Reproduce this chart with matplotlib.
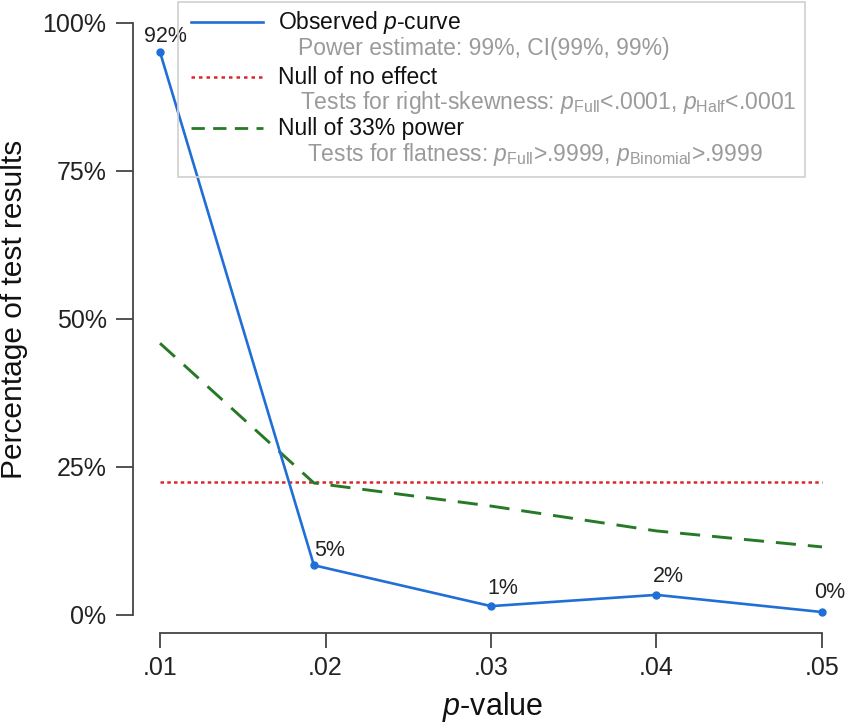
import matplotlib
matplotlib.use("Agg")
import matplotlib.pyplot as plt
from matplotlib.lines import Line2D
from matplotlib.patches import Rectangle

plt.rcParams['font.family'] = ['Liberation Sans', 'DejaVu Sans']
plt.rcParams['mathtext.fontset'] = 'custom'
plt.rcParams['mathtext.rm'] = 'Liberation Sans'
plt.rcParams['mathtext.it'] = 'Liberation Sans:italic'

# data
p_bins = [0.01, 0.0193, 0.03, 0.04, 0.05]
observed = [95.1, 8.4, 1.5, 3.4, 0.5]
observed_labels = ["92%", "5%", "1%", "2%", "0%"]
null_no_effect = [22.5, 22.5, 22.5, 22.5, 22.5]
null_33 = [45.9, 22.3, 18.4, 14.2, 11.5]
x_ticks = [0.01, 0.02, 0.03, 0.04, 0.05]
x_ticklabels = [".01", ".02", ".03", ".04", ".05"]
y_ticks = [0, 25, 50, 75, 100]
y_ticklabels = ["0%", "25%", "50%", "75%", "100%"]

legend_main = ["Observed $p$-curve", "Null of no effect", "Null of 33% power"]
legend_sub = ["Power estimate: 99%, CI(99%, 99%)",
              "Tests for right-skewness: $p_{\\mathrm{Full}}$<.0001, $p_{\\mathrm{Half}}$<.0001",
              "Tests for flatness: $p_{\\mathrm{Full}}$>.9999, $p_{\\mathrm{Binomial}}$>.9999"]

blue = '#1f6fd6'
red = '#d8282a'
green = '#267a26'
grey = '#9a9a9a'
axis_col = '#444444'
text_col = '#222222'

W, H = 851, 727
fig = plt.figure(figsize=(W/100, H/100), dpi=100)
ax = fig.add_axes([133/W, (H-632.7)/H, (840-133)/W, (632.7-23)/H])

red_style = (0, (1.4, 1.3))
green_style = (0, (6.9, 4.1))
ax.plot(p_bins, null_no_effect, color=red, lw=1.8, linestyle=red_style)
ax.plot(p_bins, null_33, color=green, lw=2.1, linestyle=green_style)
ax.plot(p_bins, observed, color=blue, lw=1.9, marker='o', markersize=5)

# percentage labels over the observed points (offsets in pixels)
offsets = [(5, 16), (0, 15), (-4, 18), (-4, 18), (-8, 20)]
for x, y, lab, off in zip(p_bins, observed, observed_labels, offsets):
    ha = 'center' if lab == "92%" else 'left'
    ax.annotate(lab, (x, y), xytext=off, textcoords='offset pixels',
                ha=ha, va='center', fontsize=15.5, color=text_col)

ax.set_xlim(0.01 - 27/16550, 0.05 + 18/16550)
ax.set_ylim(-(632.7-615)/5.92, 100)
ax.set_xticks(x_ticks)
ax.set_xticklabels(x_ticklabels)
ax.set_yticks(y_ticks)
ax.set_yticklabels(y_ticklabels)

for s in ['top', 'right']:
    ax.spines[s].set_visible(False)
ax.spines['left'].set_bounds(0, 100)
ax.spines['bottom'].set_bounds(0.01, 0.05)
for s in ['left', 'bottom']:
    ax.spines[s].set_color(axis_col)
    ax.spines[s].set_linewidth(1.3)

ax.tick_params(axis='y', length=12, width=1.3, color=axis_col, pad=7,
               labelsize=18, labelcolor=text_col)
ax.tick_params(axis='x', length=11, width=1.3, color=axis_col, pad=6,
               labelsize=18, labelcolor=text_col)

ax.set_ylabel("Percentage of test results", fontsize=21.5, color='#111111')
ax.yaxis.set_label_coords((14-133)/707, (632.7-309)/609.7)
ax.yaxis.label.set_va('center')
ax.set_xlabel("$p$-value", fontsize=22, color='#111111')
ax.xaxis.set_label_coords((493-133)/707, (632.7-707)/609.7)
ax.xaxis.label.set_va('center')

# legend box (transparent, like the reference), drawn in figure pixels
def fx(px):
    return px / W

def fy(py):
    return 1 - py / H

fig.patches.append(Rectangle((fx(178), fy(177)), fx(805) - fx(178), fy(2) - fy(177),
                             transform=fig.transFigure, facecolor='none',
                             edgecolor='#d0d0d0', linewidth=1.2, zorder=0))
main_rows = [22, 77, 128]
sub_rows = [48, 102, 155]
sub_x = [298, 300, 307]
handles = [dict(color=blue, lw=1.9, linestyle='-'),
           dict(color=red, lw=1.8, linestyle=(0, (1.4, 1.6))),
           dict(color=green, lw=2.0, linestyle=(0, (4.8, 3.0)))]
for row, lab, hs in zip(main_rows, legend_main, handles):
    fig.add_artist(Line2D([fx(191), fx(263)], [fy(row), fy(row)],
                          transform=fig.transFigure, zorder=6, **hs))
    fig.text(fx(278), fy(row), lab, fontsize=16.5, color='#111111',
             va='center', ha='left', zorder=6)
for row, lab, x in zip(sub_rows, legend_sub, sub_x):
    fig.text(fx(x), fy(row), lab, fontsize=16.5, color=grey,
             va='center', ha='left', zorder=6)

fig.savefig("out.png", dpi=100)
